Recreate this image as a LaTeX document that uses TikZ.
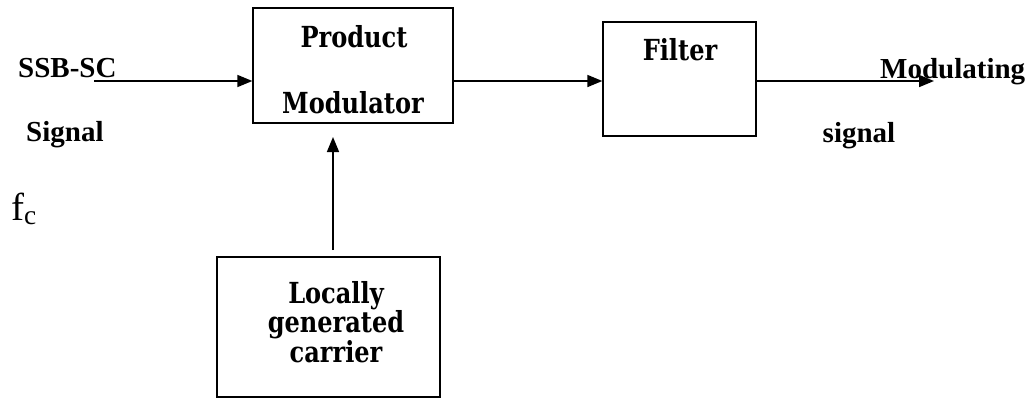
\documentclass[tikz,border=0pt]{standalone}
\usepackage{fontspec}
\setmainfont{Liberation Serif}
\newfontfamily\camb[FakeStretch=0.83]{DejaVu Serif}
\usetikzlibrary{arrows.meta}
\begin{document}
\begin{tikzpicture}[x=1pt,y=-1pt,
  blk/.style={draw, line width=1.3pt, inner sep=0pt},
  arr/.style={line width=1.6pt, -{Triangle[length=15pt,width=12pt]}},
  lbl/.style={inner sep=0pt, anchor=base, font=\bfseries\fontsize{29}{34}\selectfont},
  btxt/.style={inner sep=0pt, anchor=base, font=\camb\bfseries\fontsize{29}{30}\selectfont}]
\useasboundingbox (0,0) rectangle (1028,400);
\node[blk, minimum width=200pt, minimum height=115pt] (pm) at (353,65.5) {};
\node[blk, minimum width=153pt, minimum height=114pt] (filt) at (679.5,79) {};
\node[blk, minimum width=223pt, minimum height=140pt] (lgc) at (328.5,327) {};
% box texts
\node[btxt] (t1) at (354,47) {Product};
\node[btxt] (t2) at (353,113) {Modulator};
\node[btxt] (t3) at (680,60) {Filter};
\node[btxt, anchor=north, align=center, font=\camb\bfseries\fontsize{29}{27.5}\selectfont] (t4) at (336,281) {Locally\\generated\\carrier};
% outside labels
\node[lbl, anchor=base west] (l1) at (18,77) {SSB-SC};
\node[lbl, anchor=base west] (l2) at (26,141) {Signal};
\node[inner sep=0pt, anchor=base west, font=\fontsize{39}{42}\selectfont] (l3) at (11,220) {f\textsubscript{c}};
\node[lbl, anchor=base west] (l4) at (880,78) {Modulating};
\node[lbl] (l5) at (859,142) {signal};
% connectors
\coordinate (in1) at (94,81);
\coordinate (out1) at (934,81);
\coordinate (up0) at (333,250);
\coordinate (up1) at (333,137);
\draw[arr] (in1) -- (in1 -| pm.west);
\draw[arr] (pm.east |- in1) -- (filt.west |- in1);
\draw[arr] (filt.east |- out1) -- (out1);
\draw[arr] (up0) -- (up1);
\end{tikzpicture}
\end{document}
